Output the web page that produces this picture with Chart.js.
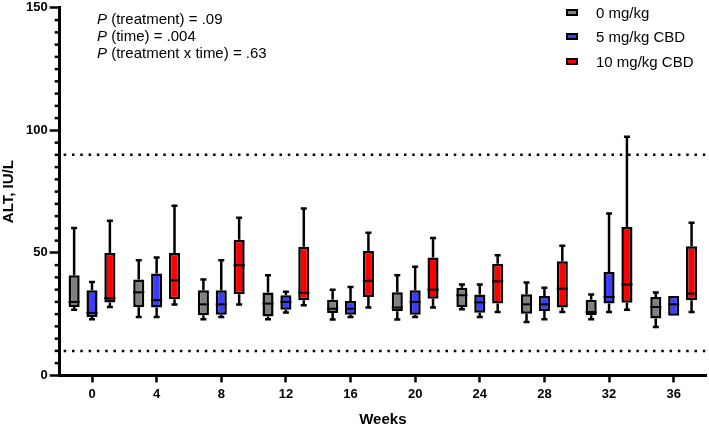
<!DOCTYPE html>
<html>
<head>
<meta charset="utf-8">
<script src="https://cdn.jsdelivr.net/npm/chart.js@4.4.0/dist/chart.umd.min.js"></script>
<style>
  body { margin: 0; background: #fff; font-family: "Liberation Sans", Arial, sans-serif; }
  #wrap { position: relative; width: 709px; height: 426px; }
  #stats { position: absolute; left: 97px; top: 10px; font-size: 15px; line-height: 17px; color: #000; }
  #legend { position: absolute; left: 566px; top: 0px; font-size: 15px; color: #000; }
  #legend div { height: 24.5px; display: flex; align-items: center; }
  #legend span.sw { display: inline-block; width: 8px; height: 3px; border: 2px solid #000; margin-right: 18px; }
</style>
</head>
<body>
<div id="wrap">
  <canvas id="chart"></canvas>
  <div id="stats"></div>
  <div id="legend"></div>
</div>
<script>
// week labels on the x axis
const weeks = ["0", "4", "8", "12", "16", "20", "24", "28", "32", "36"];

// 0 mg/kg
const ctrlMin = [26.8, 23.8, 22.9, 22.9, 22.8, 22.8, 27.0, 21.8, 22.9, 19.8];
const ctrlQ1  = [27.9, 27.9, 24.5, 24.0, 25.5, 26.2, 27.9, 25.2, 24.5, 23.2];
const ctrlMed = [30.0, 33.9, 29.0, 29.3, 27.2, 27.7, 32.7, 29.0, 25.9, 27.9];
const ctrlQ3  = [40.9, 39.1, 34.7, 33.8, 30.9, 33.9, 35.8, 33.1, 30.9, 32.0];
const ctrlMax = [60.2, 47.0, 39.1, 40.9, 35.0, 40.9, 37.1, 37.9, 33.0, 33.8];

// 5 mg/kg CBD
const lowMin = [22.9, 23.8, 23.8, 25.7, 23.8, 23.8, 23.8, 22.9, 25.9, 24.3];
const lowQ1  = [23.8, 27.7, 24.8, 26.8, 24.8, 24.8, 25.6, 26.3, 29.3, 24.3];
const lowMed = [25.5, 30.7, 29.0, 30.0, 27.2, 30.0, 29.8, 29.0, 32.0, 29.0];
const lowQ3  = [34.7, 41.6, 34.7, 32.7, 30.4, 34.7, 33.0, 32.4, 42.2, 32.4];
const lowMax = [38.1, 48.1, 47.0, 34.1, 36.1, 44.3, 37.1, 35.8, 66.1, 32.4];

// 10 mg/kg CBD
const highMin = [27.9, 28.9, 28.9, 28.6, 27.7, 27.7, 25.9, 25.9, 26.8, 25.9];
const highQ1  = [29.8, 31.1, 33.1, 30.7, 32.0, 31.3, 29.3, 27.7, 29.6, 30.7];
const highMed = [31.5, 38.8, 45.0, 33.7, 38.6, 35.0, 38.4, 35.4, 37.1, 33.4];
const highQ3  = [50.0, 50.0, 55.4, 52.5, 50.8, 48.1, 45.6, 46.6, 60.6, 52.7];
const highMax = [63.1, 69.2, 64.3, 68.1, 58.2, 56.1, 49.0, 52.9, 97.4, 62.3];

const groupNames = ["0 mg/kg", "5 mg/kg CBD", "10 mg/kg CBD"];
const groupColors = ["#808080", "#3c3cff", "#ff0000"];

// normal range lines
const refLines = [10, 90];
const yTicks = [0, 50, 100, 150];
const pTexts = [["(treatment)", ".09"], ["(time)", ".004"], ["(treatment x time)", ".63"]];

const groups = [
  { min: ctrlMin, q1: ctrlQ1, med: ctrlMed, q3: ctrlQ3, max: ctrlMax },
  { min: lowMin, q1: lowQ1, med: lowMed, q3: lowQ3, max: lowMax },
  { min: highMin, q1: highQ1, med: highMed, q3: highQ3, max: highMax }
];

const FONT = "'Liberation Sans', Arial, sans-serif";

// whiskers + medians on top of the floating bars
const boxPlugin = {
  id: "boxWhiskers",
  afterDatasetsDraw(chart) {
    const ctx = chart.ctx, y = chart.scales.y;
    ctx.save();
    ctx.strokeStyle = "#000";
    chart.data.datasets.forEach((ds, di) => {
      const g = groups[di];
      chart.getDatasetMeta(di).data.forEach((bar, i) => {
        const x = bar.x, half = bar.width / 2;
        const pMin = y.getPixelForValue(g.min[i]), pMax = y.getPixelForValue(g.max[i]);
        const pQ1 = y.getPixelForValue(g.q1[i]), pQ3 = y.getPixelForValue(g.q3[i]);
        const pMed = y.getPixelForValue(g.med[i]);
        ctx.lineWidth = 2.5;
        ctx.beginPath();
        if (g.max[i] > g.q3[i]) {
          ctx.moveTo(x, pQ3); ctx.lineTo(x, pMax);
          ctx.moveTo(x - 3, pMax); ctx.lineTo(x + 3, pMax);
        }
        if (g.min[i] < g.q1[i]) {
          ctx.moveTo(x, pQ1); ctx.lineTo(x, pMin);
          ctx.moveTo(x - 3, pMin); ctx.lineTo(x + 3, pMin);
        }
        ctx.stroke();
        ctx.lineWidth = 2;
        ctx.beginPath();
        ctx.moveTo(x - half, pMed); ctx.lineTo(x + half, pMed);
        ctx.stroke();
      });
    });
    ctx.restore();
  }
};

// dotted reference lines + short minor ticks on y
const extrasPlugin = {
  id: "extras",
  beforeDatasetsDraw(chart) {
    const ctx = chart.ctx, area = chart.chartArea, y = chart.scales.y;
    ctx.save();
    ctx.strokeStyle = "#000";
    ctx.lineWidth = 2.5;
    ctx.setLineDash([2.5, 5.8]);
    refLines.forEach(v => {
      const py = y.getPixelForValue(v);
      ctx.beginPath();
      ctx.moveTo(area.left + 4, py);
      ctx.lineTo(area.right, py);
      ctx.stroke();
    });
    ctx.restore();
  },
  afterDraw(chart) {
    const ctx = chart.ctx, y = chart.scales.y;
    ctx.save();
    ctx.strokeStyle = "#000";
    ctx.lineWidth = 2.5;
    y.ticks.forEach(t => {
      if (yTicks.includes(t.value)) return;
      const py = y.getPixelForValue(t.value);
      ctx.beginPath();
      ctx.moveTo(y.right - 5, py);
      ctx.lineTo(y.right, py);
      ctx.stroke();
    });
    ctx.restore();
  }
};

new Chart(document.getElementById("chart"), {
  type: "bar",
  data: {
    labels: weeks,
    datasets: groups.map((g, i) => ({
      label: groupNames[i],
      data: g.q1.map((v, j) => [v, g.q3[j]]),
      backgroundColor: groupColors[i],
      borderColor: "#000",
      borderWidth: 2.5,
      borderSkipped: false,
      categoryPercentage: 0.83,
      barPercentage: 0.62
    }))
  },
  options: {
    responsive: true,
    maintainAspectRatio: false,
    animation: false,
    layout: { padding: { left: 0, right: 3, top: 0, bottom: -3 } },
    plugins: { legend: { display: false }, tooltip: { enabled: false } },
    scales: {
      x: {
        grid: { drawOnChartArea: false, offset: false, tickLength: 7, tickWidth: 2.5, tickColor: "#000" },
        border: { color: "#000", width: 3 },
        ticks: { color: "#000", padding: 4, font: { family: FONT, size: 13, weight: "bold" } },
        title: { display: true, text: "Weeks", color: "#000", padding: { top: 5, bottom: 0 }, font: { family: FONT, size: 15, weight: "bold" } }
      },
      y: {
        min: 0,
        max: 150,
        grid: {
          drawOnChartArea: false, tickLength: 10, tickWidth: 2.5,
          tickColor: c => (c.tick && yTicks.includes(c.tick.value)) ? "#000" : "rgba(0,0,0,0)"
        },
        border: { color: "#000", width: 3 },
        ticks: {
          stepSize: 5, autoSkip: false, color: "#000", padding: 2,
          font: { family: FONT, size: 13, weight: "bold", lineHeight: 0.9 },
          callback: v => yTicks.includes(v) ? v : ""
        },
        title: { display: true, text: "ALT, IU/L", color: "#000", padding: { top: 0, bottom: 6 }, font: { family: FONT, size: 15, weight: "bold" } }
      }
    }
  },
  plugins: [boxPlugin, extrasPlugin]
});

document.getElementById("stats").innerHTML = pTexts
  .map(p => `<div><i>P</i> ${p[0]} = ${p[1]}</div>`).join("");
document.getElementById("legend").innerHTML = groupNames
  .map((n, i) => `<div><span class="sw" style="background:${groupColors[i]}"></span>${n}</div>`).join("");
</script>
</body>
</html>
